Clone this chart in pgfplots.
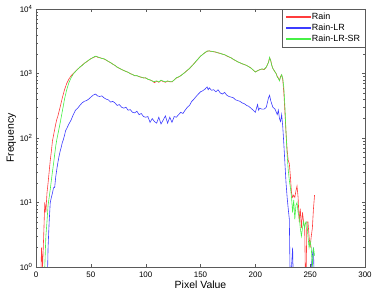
\documentclass[border=0pt]{standalone}
\usepackage{fontspec}
\setmainfont{Liberation Sans}
\usepackage{pgfplots}
\pgfplotsset{compat=1.18}
\definecolor{cRed}{RGB}{255,60,60}
\definecolor{cBlue}{RGB}{60,60,255}
\definecolor{cGreen}{RGB}{70,240,70}
\definecolor{axgray}{RGB}{90,90,90}
\begin{document}
\begin{tikzpicture}
\path[use as bounding box] (-36bp,-33bp) rectangle (338bp,267bp);
\begin{axis}[
  at={(0,0)}, anchor=south west,
  scale only axis, width=329bp, height=258bp,
  xmin=0, xmax=300, ymin=1, ymax=10000,
  ymode=log,
  axis line style={axgray},
  tick style={axgray},
  xtick={0,50,100,150,200,250,300},
  ytick={1,10,100,1000,10000},
  yticklabels={10\textsuperscript{0},10\textsuperscript{1},10\textsuperscript{2},10\textsuperscript{3},10\textsuperscript{4}},
  minor x tick num=0,
  tick align=inside,
  major tick length=3bp, minor tick length=1.8bp,
  xtick pos=both, ytick pos=both,
  /pgf/number format/assume math mode=true,
  ticklabel style={font=\fontsize{8}{9}\selectfont},
  xticklabel style={yshift=-1bp},
  xlabel={Pixel Value}, ylabel={Frequency},
  label style={font=\fontsize{10.5}{12}\selectfont},
  xlabel style={yshift=3bp},
  ylabel style={yshift=-3bp},
  legend style={at={(1,1)}, anchor=north east, draw=axgray,
    nodes={font=\fontsize{9}{10}\selectfont, inner sep=1.6bp}},
  legend cell align=left,
  legend image code/.code={\begin{scope}[#1]\fill (0bp,-0.45bp) rectangle (24bp,0.45bp);\end{scope}},
  every axis plot/.append style={line width=0.6pt},
]
\addplot[color=cRed] coordinates {
(4,0.3)(5,2)(6,1)(7,3)(8,10)(9,7)(10,14)(11,20)(12,30)(13,45)(14,62)(15,90)(16,110)(17,135)(18,165)(19,195)(20,220)(22,300)(24,420)(26,560)(28,700)(30,820)(32,920)(34,1000)(36,1080)(38,1170)(40,1250)(42,1340)(44,1440)(46,1510)(48,1600)(50,1700)(52,1760)(54,1820)(55,1850)(56,1790)(58,1760)(60,1720)(62,1680)(64,1610)(66,1540)(68,1470)(70,1400)(72,1330)(74,1260)(76,1200)(78,1160)(80,1110)(82,1080)(84,1040)(86,1000)(88,960)(90,930)(92,920)(94,900)(96,870)(98,860)(100,850)(102,820)(104,790)(106,770)(108,720)(110,760)(112,730)(114,780)(116,750)(118,730)(120,760)(122,750)(124,740)(126,800)(128,850)(130,880)(132,930)(134,980)(136,1050)(138,1120)(140,1200)(142,1300)(144,1420)(146,1550)(148,1700)(150,1850)(152,1980)(154,2100)(156,2200)(158,2250)(160,2180)(162,2190)(164,2130)(166,2100)(168,2040)(170,2000)(172,1950)(174,1870)(176,1800)(178,1750)(180,1650)(182,1580)(184,1520)(186,1460)(188,1410)(190,1380)(192,1330)(194,1280)(196,1220)(198,1130)(200,1060)(202,1100)(204,1150)(206,1170)(208,1150)(210,1250)(212,1500)(213,1750)(214,1600)(215,1350)(216,1200)(218,1050)(219,1000)(220,900)(221,850)(222,780)(223,900)(224,950)(225,800)(226,500)(227,250)(228,120)(229,65)(230,45)(231,40)(232,25)(233,14)(234,12)(235,13)(236,12)(237,15)(238,18)(239,12)(240,5)(241,8)(242,4)(243,7)(244,5)(245,4)(246,0.3)(247,5)(248,5)(249,3)(250,2)(251,3)(252,4)(253,8)(254,13)
};
\addlegendentry{Rain}
\addplot[color=cBlue, unbounded coords=jump] coordinates {
(10,0.3)(11,2)(12,5)(13,10)(14,12)(15,14)(16,17)(17,17)(18,25)(19,33)(20,42)(21,52)(22,62)(23,72)(24,85)(25,95)(26,110)(27,130)(28,140)(30,165)(32,190)(34,230)(36,270)(38,290)(40,320)(42,350)(44,370)(46,380)(48,400)(50,430)(52,460)(54,480)(55,470)(56,450)(58,440)(60,450)(62,420)(64,400)(66,390)(68,360)(70,370)(72,350)(74,320)(76,330)(78,300)(80,290)(82,300)(84,270)(86,275)(88,250)(90,245)(92,260)(94,230)(96,240)(98,215)(100,210)(102,215)(104,175)(106,200)(108,180)(110,170)(112,210)(114,165)(116,190)(118,220)(120,170)(122,210)(124,175)(126,215)(128,210)(130,230)(132,250)(134,240)(136,270)(138,300)(140,320)(142,370)(144,400)(146,440)(148,480)(150,520)(152,540)(154,570)(156,620)(157,560)(158,600)(160,550)(162,560)(164,520)(166,560)(168,500)(170,480)(172,510)(174,460)(176,440)(178,430)(180,420)(182,390)(184,380)(186,370)(188,350)(190,340)(192,320)(194,310)(196,290)(198,270)(200,250)(202,330)(203,270)(204,290)(206,280)(208,280)(210,300)(212,420)(213,460)(214,380)(216,300)(218,280)(220,230)(221,270)(222,200)(223,180)(224,230)(225,150)(226,80)(227,40)(228,20)(229,12)(230,8)(231,5.5)(232,0.3)(233,1)(234,2)(235,0.3)(236,nan)(250,0.3)(251,1)(252,1.5)(253,2)(254,0.3)
};
\addlegendentry{Rain-LR}
\addplot[color=cGreen] coordinates {
(7,0.3)(8,1)(9,3)(10,5)(11,9)(12,12)(13,16)(14,22)(15,30)(16,40)(17,55)(18,75)(19,95)(20,115)(21,140)(22,170)(23,210)(24,260)(25,320)(26,400)(28,560)(30,720)(32,860)(34,980)(36,1070)(38,1160)(40,1260)(42,1330)(44,1430)(46,1520)(48,1610)(50,1690)(52,1770)(54,1860)(55,1830)(56,1820)(58,1760)(60,1710)(62,1690)(64,1620)(66,1530)(68,1480)(70,1390)(72,1340)(74,1250)(76,1210)(78,1150)(80,1120)(82,1070)(84,1050)(86,990)(88,970)(90,920)(92,930)(94,890)(96,880)(98,850)(100,860)(102,810)(104,800)(106,760)(108,750)(110,770)(112,740)(114,790)(116,760)(118,745)(120,770)(122,740)(124,750)(126,790)(128,860)(130,890)(132,920)(134,990)(136,1040)(138,1130)(140,1190)(142,1310)(144,1410)(146,1560)(148,1690)(150,1860)(152,1970)(154,2110)(156,2230)(158,2230)(160,2210)(162,2170)(164,2160)(166,2080)(168,2060)(170,1990)(172,1960)(174,1880)(176,1810)(178,1740)(180,1660)(182,1590)(184,1510)(186,1470)(188,1420)(190,1370)(192,1340)(194,1270)(196,1210)(198,1140)(200,1050)(202,1110)(204,1140)(206,1180)(208,1160)(210,1260)(212,1480)(213,1780)(214,1580)(215,1330)(216,1190)(218,1060)(219,990)(220,880)(221,840)(222,770)(223,880)(224,960)(225,850)(226,600)(227,300)(228,120)(229,55)(230,32)(231,22)(232,17)(233,12)(234,7)(235,11)(236,5.5)(237,9)(238,10)(239,7)(240,6)(241,4)(242,3)(243,4)(244,5)(245,4)(246,5)(247,5)(248,3)(249,2)(250,2.5)(251,2)(252,1)(253,2)(254,1.5)
};
\addlegendentry{Rain-LR-SR}
\end{axis}
\end{tikzpicture}
\end{document}
